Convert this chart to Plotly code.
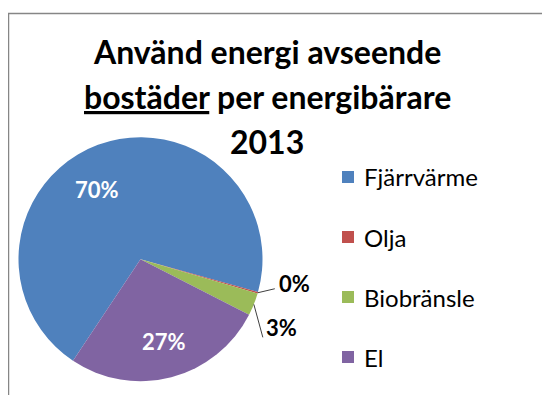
import math
import plotly.graph_objects as go

# data
labels = ["Fjärrvärme", "Olja", "Biobränsle", "El"]
values = [70.0, 0.2, 3.0, 26.8]
colors = ["#4F81BD", "#C0504D", "#9BBB59", "#8064A2"]
title_lines = ["Använd energi avseende", "<u>bostäder</u> per energibärare", "2013"]

OFF = 8  # page body margin around the plot div
W, H = 550 - 2 * OFF, 403 - 2 * OFF  # keep the page free of scrollbars
FONT = "Lato"

# pie placement (screen pixels) and start angle of the first slice
cx, cy, r = 140.5, 259.2, 122
rotation = 213.6
# inside labels: nudges (px) from the point at 0.7 r on the mid angle
inside_offsets = {0: (-14, 10), 3: (2, 0)}
# outside labels: (end of leader line, left edge / middle of text) relative to slice edge
outside_offsets = {1: ((17, -4), (19, -9)), 2: ((9, 33), (10, 23))}


def px(x):
    return (x - OFF) / W


def py(y):
    return 1 - (y - OFF) / H


fig = go.Figure()
fig.add_trace(go.Pie(labels=labels, values=values, sort=False,
                     direction="clockwise", rotation=rotation,
                     marker=dict(colors=colors),
                     domain=dict(x=[px(cx - r), px(cx + r)],
                                 y=[py(cy + r), py(cy - r)]),
                     textinfo="none", showlegend=False,
                     hovertemplate="%{label}: %{percent:.0%}<extra></extra>"))

total = sum(values)
annotations = []
shapes = []
cum = 0
for i, v in enumerate(values):
    mid = math.radians(rotation + 360 * (cum + v / 2) / total)
    cum += v
    pct = "<b>%d%%</b>" % round(100 * v / total)
    if i in inside_offsets:
        dx, dy = inside_offsets[i]
        tx = cx + 0.7 * r * math.sin(mid) + dx
        ty = cy - 0.7 * r * math.cos(mid) + dy
        annotations.append(dict(x=px(tx), y=py(ty), xref="paper", yref="paper",
                                text=pct, showarrow=False,
                                xanchor="center", yanchor="middle",
                                font=dict(family=FONT, size=22, color="white")))
    if i in outside_offsets:
        ex = cx + r * math.sin(mid)
        ey = cy - r * math.cos(mid)
        (lx, ly), (tx, ty) = outside_offsets[i]
        shapes.append(dict(type="line", xref="paper", yref="paper",
                           x0=px(ex), y0=py(ey), x1=px(ex + lx), y1=py(ey + ly),
                           line=dict(color="#404040", width=1)))
        annotations.append(dict(x=px(ex + tx), y=py(ey + ty), xref="paper", yref="paper",
                                text=pct, showarrow=False,
                                xanchor="left", yanchor="middle",
                                font=dict(family=FONT, size=22, color="black")))

# title, one line per annotation
for k, line in enumerate(title_lines):
    annotations.append(dict(x=px(267), y=py(51 + 45 * k), xref="paper", yref="paper",
                            text="<b>%s</b>" % line, showarrow=False,
                            xanchor="center", yanchor="middle",
                            font=dict(family=FONT, size=32, color="black")))

# legend
for i, (lab, col) in enumerate(zip(labels, colors)):
    yc = 177 + 60 * i
    shapes.append(dict(type="rect", xref="paper", yref="paper",
                       x0=px(342), x1=px(354), y0=py(yc + 6), y1=py(yc - 6),
                       fillcolor=col, line=dict(width=0)))
    annotations.append(dict(x=px(362), y=py(yc), xref="paper", yref="paper",
                            text=lab, showarrow=False, xanchor="left",
                            yanchor="middle",
                            font=dict(family=FONT, size=24, color="black")))

# chart area border (runs off the right and bottom of the picture)
shapes.append(dict(type="rect", xref="paper", yref="paper",
                   x0=px(8.5), y0=py(13.5), x1=1.2, y1=-0.2,
                   line=dict(color="#868686", width=1.5), fillcolor="rgba(0,0,0,0)"))

fig.update_layout(width=W, height=H, margin=dict(l=0, r=0, t=0, b=0),
                  paper_bgcolor="white", plot_bgcolor="white",
                  annotations=annotations, shapes=shapes)

fig.write_html("out.html")
